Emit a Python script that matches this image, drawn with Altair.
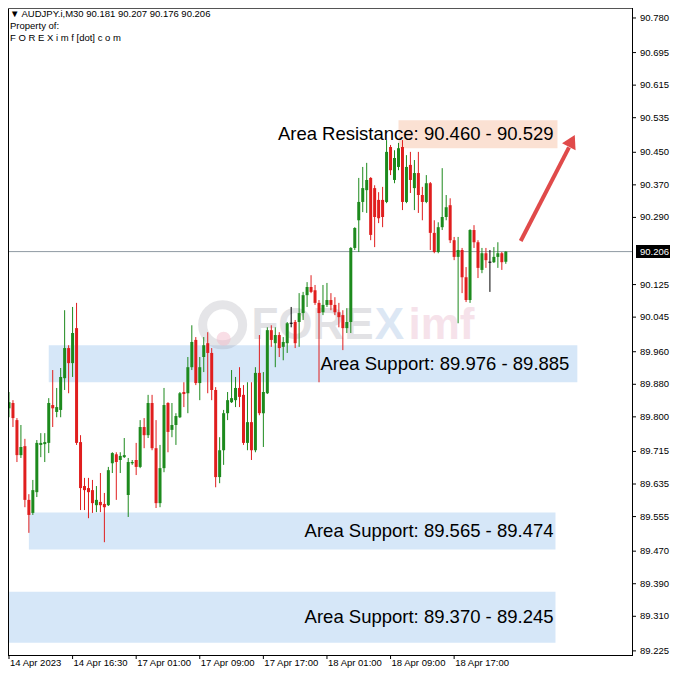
import altair as alt
import pandas as pd
import numpy as np

# ---------------- data (AUDJPY.i, M30) ----------------
opens = [89.821, 89.834, 89.792, 89.706, 89.728, 89.596, 89.564, 89.615, 89.731, 89.733,
         89.736, 89.829, 89.812, 89.817, 89.895, 89.969, 89.932, 90.018, 89.738, 89.630,
         89.625, 89.620, 89.583, 89.591, 89.586, 89.583, 89.686, 89.708, 89.694, 89.701,
         89.608, 89.686, 89.694, 89.677, 89.775, 89.755, 89.834, 89.723, 89.588, 89.674,
         89.834, 89.768, 89.780, 89.799, 89.861, 89.858, 89.922, 89.989, 89.883, 89.947,
         89.981, 89.957, 89.866, 89.652, 89.718, 89.809, 89.836, 89.841, 89.871, 89.854,
         89.736, 89.787, 89.718, 89.908, 89.809, 89.858, 90.013, 89.981, 90.001, 89.972,
         89.981, 90.030, 90.033, 90.033, 90.055, 90.099, 90.119, 90.111, 90.080, 90.057,
         90.075, 90.087, 90.075, 90.057, 90.050, 90.018, 90.033, 90.215, 90.283, 90.328,
         90.357, 90.387, 90.362, 90.333, 90.333, 90.328, 90.463, 90.382, 90.414, 90.463,
         90.328, 90.419, 90.362, 90.399, 90.345, 90.328, 90.374, 90.252, 90.205, 90.266,
         90.291, 90.320, 90.234, 90.193, 90.210, 90.143, 90.087, 90.259, 90.229, 90.161,
         90.202, 90.180, 90.180, 90.193, 90.202, 90.181]
highs = [89.861, 89.841, 89.797, 89.780, 89.746, 89.610, 89.645, 89.743, 89.760, 89.760,
         89.846, 89.915, 89.871, 89.920, 90.062, 89.976, 90.070, 90.080, 89.755, 89.650,
         89.650, 89.645, 89.630, 89.662, 89.613, 89.677, 89.713, 89.713, 89.713, 89.748,
         89.699, 89.694, 89.736, 89.792, 89.797, 89.854, 89.854, 89.792, 89.731, 89.871,
         89.836, 89.834, 89.809, 89.861, 89.885, 89.947, 90.025, 89.996, 89.947, 89.996,
         90.008, 89.969, 89.873, 89.750, 89.817, 89.861, 89.915, 89.898, 89.922, 89.878,
         89.885, 89.885, 89.922, 90.001, 89.910, 90.020, 90.025, 90.020, 90.008, 89.996,
         90.033, 90.070, 90.038, 90.104, 90.107, 90.131, 90.148, 90.124, 90.087, 90.124,
         90.129, 90.104, 90.094, 90.080, 90.062, 90.067, 90.217, 90.266, 90.387, 90.414,
         90.424, 90.389, 90.369, 90.352, 90.365, 90.480, 90.468, 90.455, 90.473, 90.480,
         90.443, 90.451, 90.431, 90.451, 90.365, 90.394, 90.377, 90.283, 90.278, 90.411,
         90.345, 90.337, 90.242, 90.242, 90.215, 90.168, 90.261, 90.271, 90.234, 90.215,
         90.215, 90.210, 90.217, 90.229, 90.205, 90.207]
lows = [89.799, 89.775, 89.689, 89.699, 89.578, 89.515, 89.559, 89.603, 89.701, 89.689,
        89.711, 89.775, 89.799, 89.799, 89.866, 89.858, 89.898, 89.731, 89.571, 89.571,
        89.551, 89.564, 89.566, 89.566, 89.492, 89.581, 89.662, 89.596, 89.662, 89.699,
        89.554, 89.682, 89.657, 89.674, 89.723, 89.748, 89.718, 89.576, 89.578, 89.664,
        89.713, 89.750, 89.731, 89.797, 89.824, 89.809, 89.915, 89.878, 89.841, 89.910,
        89.858, 89.841, 89.627, 89.637, 89.682, 89.792, 89.834, 89.824, 89.824, 89.731,
        89.718, 89.694, 89.713, 89.804, 89.726, 89.856, 89.972, 89.922, 89.947, 89.939,
        89.957, 90.020, 89.969, 89.972, 90.038, 90.070, 90.104, 90.075, 89.885, 90.050,
        90.070, 90.062, 90.050, 90.020, 89.964, 90.006, 90.006, 90.210, 90.205, 90.303,
        90.301, 90.234, 90.217, 90.276, 90.266, 90.325, 90.394, 90.374, 90.406, 90.308,
        90.325, 90.350, 90.308, 90.301, 90.283, 90.325, 90.210, 90.202, 90.202, 90.259,
        90.283, 90.227, 90.185, 90.030, 90.104, 90.082, 90.080, 90.215, 90.141, 90.153,
        90.166, 90.107, 90.178, 90.166, 90.161, 90.176]
closes = [89.836, 89.797, 89.706, 89.726, 89.596, 89.559, 89.620, 89.736, 89.736, 89.738,
          89.834, 89.821, 89.824, 89.898, 89.969, 89.932, 90.006, 89.736, 89.625, 89.620,
          89.615, 89.588, 89.596, 89.583, 89.578, 89.669, 89.711, 89.689, 89.704, 89.706,
          89.689, 89.689, 89.677, 89.775, 89.755, 89.834, 89.723, 89.588, 89.674, 89.829,
          89.763, 89.780, 89.802, 89.858, 89.856, 89.922, 89.984, 89.883, 89.922, 89.976,
          89.957, 89.866, 89.652, 89.718, 89.809, 89.841, 89.846, 89.871, 89.849, 89.736,
          89.787, 89.718, 89.908, 89.809, 89.861, 90.013, 89.989, 90.001, 89.969, 89.984,
          90.030, 90.030, 89.981, 90.055, 90.099, 90.119, 90.107, 90.080, 90.055, 90.075,
          90.087, 90.075, 90.057, 90.045, 90.018, 90.033, 90.215, 90.264, 90.328, 90.362,
          90.382, 90.247, 90.291, 90.288, 90.291, 90.451, 90.406, 90.436, 90.460, 90.328,
          90.414, 90.382, 90.399, 90.345, 90.328, 90.374, 90.252, 90.205, 90.266, 90.291,
          90.315, 90.234, 90.193, 90.210, 90.143, 90.087, 90.259, 90.229, 90.166, 90.202,
          90.185, 90.180, 90.193, 90.202, 90.180, 90.206]

time_ticks = [1, 17, 33, 49, 65, 81, 97, 113]
time_labels = ["14 Apr 2023", "14 Apr 16:30", "17 Apr 01:00", "17 Apr 09:00",
               "17 Apr 17:00", "18 Apr 01:00", "18 Apr 09:00", "18 Apr 17:00"]
price_ticks = [90.780, 90.695, 90.615, 90.535, 90.450, 90.370, 90.290, 90.125, 90.045,
               89.960, 89.880, 89.800, 89.715, 89.635, 89.555, 89.470, 89.390, 89.310, 89.225]
last_price = 90.206

zone_names = ["Area Resistance", "Area Support", "Area Support", "Area Support"]
zone_lo = [90.460, 89.885, 89.474, 89.245]
zone_hi = [90.529, 89.976, 89.565, 89.370]
zone_text = ["Area Resistance: 90.460 - 90.529", "Area Support: 89.976 - 89.885",
             "Area Support: 89.565 - 89.474", "Area Support: 89.370 - 89.245"]
zone_start = [99, 11, 6, 0.75]
zone_end = [139, 144, 138.5, 138.5]
zone_text_end = [138, 142, 138, 138]

arrow_start = (129.75, 90.232)
arrow_end = (141.9, 90.462)
arrow_tip = (142.6, 90.478)

# ---------------- frames ----------------
n = len(opens)
df = pd.DataFrame({"i": np.arange(1, n + 1), "open": opens, "high": highs,
                   "low": lows, "close": closes})
df["dir"] = np.where(df.close > df.open, "up", np.where(df.close < df.open, "down", "flat"))
top = np.maximum(df.open, df.close)
bot = np.minimum(df.open, df.close)
mid = (top + bot) / 2
small = (top - bot) < 0.0025
df["top"] = np.where(small, mid + 0.00125, top)
df["bot"] = np.where(small, mid - 0.00125, bot)

zones = pd.DataFrame({"name": zone_names, "lo": zone_lo, "hi": zone_hi, "text": zone_text,
                      "x0": zone_start, "x1": zone_end, "xt": zone_text_end})
zones["mid"] = (zones.lo + zones.hi) / 2
zones["kind"] = np.where(zones.name == "Area Resistance", "res", "sup")

ticks_df = pd.DataFrame({"p": price_ticks})
time_df = pd.DataFrame({"i": time_ticks, "lab": time_labels})

# ---------------- geometry ----------------
SVG_W, SVG_H = 662, 662          # whole drawing
PW, PH = 624, 647                # plot frame inside it
XDOM = [0.75, 157.75]
YDOM = [89.2149, 90.8045]

xs = alt.Scale(domain=XDOM, range=[0, PW], nice=False, zero=False, padding=0)
ys = alt.Scale(domain=YDOM, range=[PH, 0], nice=False, zero=False, padding=0)


def X(f):
    return alt.X(f, type="quantitative", scale=xs, axis=None)


def Y(f):
    return alt.Y(f, type="quantitative", scale=ys, axis=None)


one = pd.DataFrame({"a": [0]})
FONT = "Liberation Sans"

zone_rects = alt.Chart(zones).mark_rect().encode(
    x=X("x0"), x2="x1", y=Y("lo"), y2="hi",
    color=alt.Color("kind:N", scale=alt.Scale(domain=["res", "sup"],
                                              range=["#fbe1d3", "#d6e7f8"]), legend=None),
)

# watermark
wm_ring = alt.Chart(pd.DataFrame({"x": [54.75], "y": [90.026]})).mark_point(
    shape="circle", filled=False, size=1600, strokeWidth=9, color="#9a9aa6", opacity=0.25
).encode(x=X("x"), y=Y("y"))
wm_pink = alt.Chart(pd.DataFrame({"x": [55.0], "y": [89.992]})).mark_point(
    shape="circle", filled=True, size=200, color="#f2b6c8", opacity=0.45
).encode(x=X("x"), y=Y("y"))
wm_common = dict(align="left", baseline="middle", font=FONT, fontSize=44, fontWeight="bold")
wm1 = alt.Chart(pd.DataFrame({"x": [62.0], "y": [90.023], "t": ["FORE"]})).mark_text(
    color="#8f8f99", opacity=0.25, **wm_common).encode(x=X("x"), y=Y("y"), text="t:N")
wm2 = alt.Chart(pd.DataFrame({"x": [93.0], "y": [90.023], "t": ["X"]})).mark_text(
    color="#a9c4e6", opacity=0.4, **wm_common).encode(x=X("x"), y=Y("y"), text="t:N")
wm3 = alt.Chart(pd.DataFrame({"x": [101.5], "y": [90.023], "t": ["imf"]})).mark_text(
    color="#e9b8cc", opacity=0.4, **wm_common).encode(x=X("x"), y=Y("y"), text="t:N")

cscale = alt.Scale(domain=["up", "down", "flat"], range=["#1d8a1d", "#e01e1e", "#000000"])

wicks = alt.Chart(df).mark_rule(strokeWidth=1).encode(
    x=X("i"), y=Y("low"), y2="high", color=alt.Color("dir:N", scale=cscale, legend=None))
bodies = alt.Chart(df).mark_bar(size=3).encode(
    x=X("i"), y=Y("bot"), y2="top", color=alt.Color("dir:N", scale=cscale, legend=None))

last_line = alt.Chart(pd.DataFrame({"p": [last_price]})).mark_rule(
    color="#8f9aa3", strokeWidth=1
).encode(y=Y("p"), x=alt.value(0), x2=alt.value(PW))

zone_labels = alt.Chart(zones).mark_text(
    align="right", baseline="middle", font=FONT, fontSize=18.5, color="black"
).encode(x=X("xt"), y=Y("mid"), text="text:N")

arrow_df = pd.DataFrame({"x": [arrow_start[0]], "y": [arrow_start[1]],
                         "x2": [arrow_end[0]], "y2": [arrow_end[1]]})
arrow_line = alt.Chart(arrow_df).mark_rule(color="#e04a4a", strokeWidth=4).encode(
    x=X("x"), y=Y("y"), x2="x2", y2="y2")
arrow_head = alt.Chart(pd.DataFrame({"x": [arrow_tip[0]], "y": [arrow_tip[1]]})).mark_point(
    shape="triangle-up", filled=True, size=230, angle=27, color="#e04a4a", opacity=1
).encode(x=X("x"), y=Y("y"))

# frame (plot border)
frame_left = alt.Chart(one).mark_rule(color="black").encode(
    x=alt.value(0.5), y=alt.value(0), y2=alt.value(PH))
frame_top = alt.Chart(one).mark_rule(color="#555555").encode(
    x=alt.value(0), x2=alt.value(PW), y=alt.value(0.5))
frame_right = alt.Chart(one).mark_rule(color="black").encode(
    x=alt.value(PW + 0.5), y=alt.value(0), y2=alt.value(PH + 1))
frame_bottom = alt.Chart(one).mark_rule(color="black").encode(
    x=alt.value(0), x2=alt.value(PW + 1), y=alt.value(PH + 0.5))

# right price axis
p_ticks = alt.Chart(ticks_df).mark_rule(color="black").encode(
    x=alt.value(PW), x2=alt.value(PW + 4), y=Y("p"))
p_labels = alt.Chart(ticks_df).mark_text(
    align="left", baseline="middle", font=FONT, fontSize=9.5, color="black"
).encode(x=alt.value(PW + 8), y=Y("p"), text=alt.Text("p:Q", format=".3f"))

# bottom time axis
t_ticks = alt.Chart(time_df).mark_rule(color="black").encode(
    x=X("i"), y=alt.value(PH), y2=alt.value(PH + 4))
t_labels = alt.Chart(time_df).mark_text(
    align="left", baseline="top", font=FONT, fontSize=9.5, color="black", dx=1
).encode(x=X("i"), y=alt.value(PH + 3), text="lab:N")

# current price tag
price_box = alt.Chart(pd.DataFrame({"p": [last_price]})).mark_rect(color="black").encode(
    x=alt.value(PW + 4), x2=alt.value(SVG_W), y=Y("p0"), y2="p1"
).transform_calculate(p0="datum.p - 0.016", p1="datum.p + 0.016")
price_txt = alt.Chart(pd.DataFrame({"p": [last_price]})).mark_text(
    align="left", baseline="middle", font=FONT, fontSize=9.5, color="white"
).encode(x=alt.value(PW + 8), y=Y("p"), text=alt.Text("p:Q", format=".3f"))

# header
hdr_font = dict(align="left", baseline="middle", font=FONT, fontSize=9.5, color="black")
hdr1 = alt.Chart(one).mark_text(
    text="\u25bc AUDJPY.i,M30  90.181 90.207 90.176 90.206", **hdr_font
).encode(x=alt.value(2), y=alt.value(6))
hdr2 = alt.Chart(one).mark_text(text="Property of:", **hdr_font).encode(
    x=alt.value(2), y=alt.value(17.5))
hdr3 = alt.Chart(one).mark_text(text="F O R E X i m f [dot] c o m", **hdr_font).encode(
    x=alt.value(2), y=alt.value(29.5))

chart = alt.layer(
    zone_rects, wm_ring, wm_pink, wm1, wm2, wm3, last_line, wicks, bodies,
    zone_labels, arrow_line, arrow_head,
    frame_left, frame_top, frame_right, frame_bottom,
    p_ticks, p_labels, t_ticks, t_labels, price_box, price_txt, hdr1, hdr2, hdr3
).properties(
    width=SVG_W, height=SVG_H, padding=0,
    autosize=alt.AutoSizeParams(type="none"), background="white"
).configure_view(strokeWidth=0, stroke=None).resolve_scale(color="independent")

chart.save("out.html", embed_options={"renderer": "svg", "actions": False})
